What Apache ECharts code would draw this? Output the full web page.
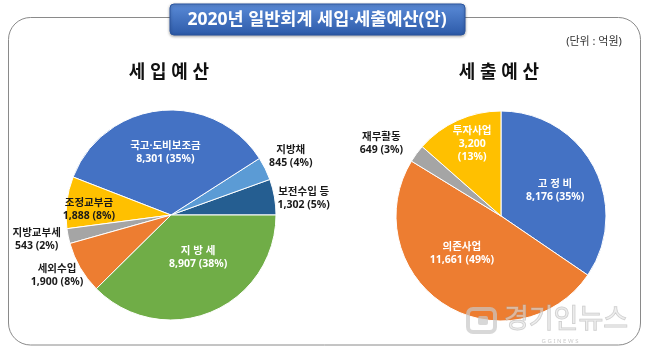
<!DOCTYPE html>
<html><head><meta charset="utf-8">
<script src="https://cdn.jsdelivr.net/npm/echarts@6/dist/echarts.min.js"></script>
<style>html,body{margin:0;padding:0;background:#fff}#chart{width:650px;height:356px}</style>
</head><body><div id="chart"></div>
<script>
// ---- data ----
const chartTitle = '2020년 일반회계 세입·세출예산(안)';
const unitText = '(단위 : 억원)';
const revenueTitle = '세 입 예 산';
const expenseTitle = '세 출 예 산';
const revenueCategories = ['보전수입 등', '지방채', '국고·도비보조금', '조정교부금', '지방교부세', '세외수입', '지 방 세'];
const revenueValues = [1302, 845, 8301, 1888, 543, 1900, 8907];
const expenseCategories = ['고 정 비', '의존사업', '재무활동', '투자사업'];
const expenseValues = [8176, 11661, 649, 3200];

// ---- styles ----
const FONT = "'Noto Sans', 'Noto Sans CJK KR', sans-serif";
const revenueColors = ['#255E91', '#5B9BD5', '#4472C4', '#FFC000', '#A5A5A5', '#ED7D31', '#70AD47'];
const revenueLabelColors = ['#1a1a1a', '#1a1a1a', '#ffffff', '#1a1a1a', '#1a1a1a', '#1a1a1a', '#ffffff'];
const revenueLabelShift = [[78, -7], [70, -34], [0, -7], [-27, 1], [-80, 13], [-66, 33], [6, -9]];
const expenseColors = ['#4472C4', '#ED7D31', '#A5A5A5', '#FFC000'];
const expenseLabelColors = ['#ffffff', '#ffffff', '#1a1a1a', '#ffffff'];
const expenseLabelShift = [[5, 0], [-9, -9], [-75, -40], [-6, -21]];
const expenseThreeLine = [false, false, false, true];

function fmt(n) { return n.toLocaleString('en-US'); }

function buildData(cats, vals, colors, labelColors) {
  return cats.map((c, i) => ({
    name: c, value: vals[i],
    itemStyle: { color: colors[i] },
    label: { color: labelColors[i] }
  }));
}

function pieSeries(center, data, shifts, threeLine, startAngle, clockwise) {
  return {
    type: 'pie',
    center: center,
    radius: 105,
    startAngle: startAngle,
    clockwise: clockwise,
    percentPrecision: 0,
    silent: true,
    itemStyle: { borderColor: '#ffffff', borderWidth: 1 },
    label: {
      show: true, position: 'inside',
      fontFamily: FONT, fontSize: 10.5, fontWeight: 'bold', lineHeight: 13,
      formatter: function (p) {
        const sep = threeLine && threeLine[p.dataIndex] ? '\n' : ' ';
        return p.name + '\n' + fmt(p.value) + sep + '(' + p.percent + '%)';
      }
    },
    labelLine: { show: false },
    labelLayout: function (p) { const s = shifts[p.dataIndex]; return { dx: s[0], dy: s[1] }; },
    emphasis: { disabled: true },
    data: data
  };
}

const chart = echarts.init(document.getElementById('chart'), null, { renderer: 'canvas' });
chart.setOption({
  animation: false,
  backgroundColor: '#ffffff',
  graphic: [
    { type: 'rect', z: 0, shape: { x: 8.5, y: 17.5, width: 632, height: 327.5, r: 22 },
      style: { fill: 'none', stroke: '#8a8a8a', lineWidth: 1 } },
    { type: 'rect', z: 1, shape: { x: 170, y: 4, width: 295, height: 31, r: 4 },
      style: {
        fill: new echarts.graphic.LinearGradient(0, 0, 0, 1, [
          { offset: 0, color: '#5b8bd8' }, { offset: 1, color: '#2c5aa8' }]),
        stroke: '#2a55a0', lineWidth: 1,
        shadowBlur: 3, shadowOffsetY: 1, shadowColor: 'rgba(0,0,0,0.35)'
      } },
    { type: 'text', z: 2, x: 317, y: 20,
      style: { text: chartTitle, fill: '#ffffff', font: "bold 17.5px " + FONT, align: 'center', verticalAlign: 'middle' } },
    { type: 'text', z: 2, x: 594, y: 42,
      style: { text: unitText, fill: '#333333', font: "11px " + FONT, align: 'center', verticalAlign: 'middle' } },
    { type: 'text', z: 2, x: 169, y: 73,
      style: { text: revenueTitle, fill: '#111111', font: "bold 18px " + FONT, align: 'center', verticalAlign: 'middle' } },
    { type: 'text', z: 2, x: 499, y: 73,
      style: { text: expenseTitle, fill: '#111111', font: "bold 18px " + FONT, align: 'center', verticalAlign: 'middle' } },
    // watermark
    { type: 'rect', z: 50, shape: { x: 468, y: 309, width: 27, height: 23, r: 5 },
      style: { fill: 'none', stroke: 'rgba(200,200,200,0.7)', lineWidth: 4 } },
    { type: 'rect', z: 50, shape: { x: 478, y: 316, width: 10, height: 9, r: 2 },
      style: { fill: 'rgba(200,200,200,0.7)' } },
    { type: 'text', z: 50, x: 566, y: 320,
      style: { text: '경기인뉴스', fill: 'rgba(225,225,225,0.55)', stroke: 'rgba(170,170,170,0.6)', lineWidth: 1,
               font: "27px " + FONT, align: 'center', verticalAlign: 'middle' } },
    { type: 'text', z: 50, x: 560, y: 341,
      style: { text: 'G G I N E W S', fill: 'rgba(190,190,190,0.8)', font: "6px " + FONT, align: 'center', verticalAlign: 'middle' } }
  ],
  series: [
    pieSeries([171, 215], buildData(revenueCategories, revenueValues, revenueColors, revenueLabelColors), revenueLabelShift, null, 0, false),
    pieSeries([501, 216], buildData(expenseCategories, expenseValues, expenseColors, expenseLabelColors), expenseLabelShift, expenseThreeLine, 90, true)
  ]
});
</script></body></html>
